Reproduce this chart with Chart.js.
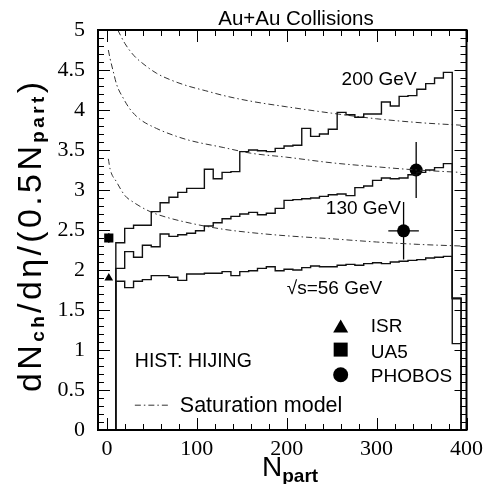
<!DOCTYPE html>
<html>
<head>
<meta charset="utf-8">
<script src="https://cdn.jsdelivr.net/npm/chart.js@4.4.0/dist/chart.umd.min.js"></script>
<style>
  html, body { margin: 0; padding: 0; background: #fff; }
</style>
</head>
<body>
<canvas id="multChart" width="489" height="484"></canvas>
<script>
// HIJING histograms, 40 bins between 0 and 394 participants
const binEdges = [0, 9.85, 19.7, 29.55, 39.4, 49.25, 59.1, 68.95, 78.8, 88.65, 98.5,
  108.35, 118.2, 128.05, 137.9, 147.75, 157.6, 167.45, 177.3, 187.15, 197,
  206.85, 216.7, 226.55, 236.4, 246.25, 256.1, 265.95, 275.8, 285.65, 295.5,
  305.35, 315.2, 325.05, 334.9, 344.75, 354.6, 364.45, 374.3, 384.15, 394];

const hist56 = [0, 1.86, 1.78, 1.86, 1.88, 1.93, 1.93, 1.91, 1.87, 1.95, 1.95,
  1.96, 1.96, 1.98, 1.93, 1.98, 1.99, 2.02, 2.04, 1.99, 2.01,
  2.00, 2.03, 2.05, 2.04, 2.04, 2.06, 2.07, 2.06, 2.08, 2.09,
  2.08, 2.10, 2.11, 2.12, 2.13, 2.15, 2.16, 2.17, 1.64];
const hist130 = [0, 2.02, 2.23, 2.16, 2.31, 2.29, 2.45, 2.42, 2.44, 2.46, 2.49,
  2.55, 2.59, 2.64, 2.67, 2.70, 2.72, 2.69, 2.71, 2.77, 2.87,
  2.88, 2.89, 2.90, 2.92, 2.94, 2.95, 2.93, 3.03, 3.05, 3.12,
  3.15, 3.14, 3.15, 3.19, 3.22, 3.25, 3.28, 3.33, 1.65];
const hist200 = [0, 2.34, 2.52, 2.56, 2.56, 2.73, 2.84, 2.91, 2.97, 3.02, 3.02,
  3.26, 3.14, 3.22, 3.23, 3.48, 3.50, 3.49, 3.48, 3.52, 3.55,
  3.56, 3.77, 3.67, 3.70, 3.76, 3.97, 3.94, 3.91, 3.95, 3.95,
  4.10, 4.05, 4.17, 4.18, 4.26, 4.33, 4.40, 4.47, 1.08];

// saturation model curves
const sat200N = [12, 20, 30, 40, 55, 70, 90, 110, 130, 160, 200, 250, 300, 350, 394];
const sat200V = [5.0, 4.83, 4.68, 4.58, 4.46, 4.38, 4.30, 4.24, 4.18, 4.11, 4.04, 3.96, 3.89, 3.84, 3.81];
const sat130N = [1.5, 3.3, 7, 11, 18, 25, 36, 55, 75, 92, 130, 160, 200, 250, 300, 345, 394];
const sat130V = [4.75, 4.65, 4.48, 4.31, 4.15, 4.02, 3.89, 3.77, 3.68, 3.62, 3.53, 3.46, 3.41, 3.34, 3.29, 3.25, 3.22];
const sat56N = [1.5, 3.5, 10.7, 20, 29, 48, 66, 95, 129, 158, 197, 250, 300, 347, 394];
const sat56V = [3.39, 3.26, 3.10, 2.93, 2.85, 2.73, 2.66, 2.58, 2.51, 2.47, 2.43, 2.39, 2.35, 2.32, 2.30];

// measured points
const isrX = [2], isrY = [1.90];
const ua5X = [2], ua5Y = [2.40], ua5YErr = [0.06];
const phobosX = [330, 344], phobosY = [2.49, 3.25];
const phobosXErr = [17, 0], phobosYErr = [0.36, 0.35];

const xTicks = [0, 100, 200, 300, 400];
const xTickLabels = ['0', '100', '200', '300', '400'];
const yTicks = [0, 0.5, 1, 1.5, 2, 2.5, 3, 3.5, 4, 4.5, 5];
const yTickLabels = ['0', '0.5', '1', '1.5', '2', '2.5', '3', '3.5', '4', '4.5', '5'];

const SANS = '"Liberation Sans", Arial, sans-serif';

function histPoints(vals) {
  return binEdges.map((e, i) => ({ x: e, y: i < vals.length ? vals[i] : 0 }));
}
function curvePoints(xs, ys) {
  return xs.map((x, i) => ({ x: x, y: ys[i] }));
}

const histStyle = {
  showLine: true, stepped: 'before', pointRadius: 0, pointHoverRadius: 0,
  borderColor: '#111', borderWidth: 1.4, fill: false
};
const satStyle = {
  showLine: true, pointRadius: 0, pointHoverRadius: 0, cubicInterpolationMode: 'monotone',
  borderColor: '#333', borderWidth: 1, borderDash: [6, 3, 1.5, 3], fill: false
};

// draws pieces of text with their own font and shift, glyph by glyph, spread to a given length
function richText(ctx, parts, x, y, length) {
  let natural = 0, count = 0;
  parts.forEach(p => { ctx.font = p.font; natural += ctx.measureText(p.t).width; count += p.t.length; });
  const gap = length ? (length - natural) / (count - 1) : 0;
  let cx = x;
  parts.forEach(p => {
    ctx.font = p.font;
    for (const ch of p.t) {
      ctx.fillText(ch, cx, y + (p.dy || 0));
      cx += ctx.measureText(ch).width + gap;
    }
  });
}

const decorations = {
  id: 'decorations',
  beforeDatasetsDraw(chart) {
    const ctx = chart.ctx, xs = chart.scales.x, ys = chart.scales.y;
    ctx.save();
    ctx.strokeStyle = '#000';
    ctx.lineWidth = 1.3;
    ctx.beginPath();
    phobosX.forEach((x, i) => {
      const px = xs.getPixelForValue(x), py = ys.getPixelForValue(phobosY[i]);
      ctx.moveTo(px, ys.getPixelForValue(phobosY[i] - phobosYErr[i]));
      ctx.lineTo(px, ys.getPixelForValue(phobosY[i] + phobosYErr[i]));
      if (phobosXErr[i] > 0) {
        ctx.moveTo(xs.getPixelForValue(x - phobosXErr[i]), py);
        ctx.lineTo(xs.getPixelForValue(x + phobosXErr[i]), py);
      }
    });
    ua5X.forEach((x, i) => {
      const px = xs.getPixelForValue(x);
      ctx.moveTo(px, ys.getPixelForValue(ua5Y[i] - ua5YErr[i]));
      ctx.lineTo(px, ys.getPixelForValue(ua5Y[i] + ua5YErr[i]));
    });
    ctx.stroke();
    ctx.restore();
  },
  afterDatasetsDraw(chart) {
    const ctx = chart.ctx, xs = chart.scales.x, ys = chart.scales.y, a = chart.chartArea;
    const X = v => xs.getPixelForValue(v), Y = v => ys.getPixelForValue(v);
    ctx.save();

    // inward ticks on all four sides
    ctx.strokeStyle = '#000';
    ctx.lineWidth = 1;
    ctx.beginPath();
    for (let v = 0; v <= 400; v += 20) {
      const px = Math.round(X(v)) + 0.5, len = v % 100 === 0 ? 12 : 6;
      ctx.moveTo(px, a.bottom); ctx.lineTo(px, a.bottom - len);
      ctx.moveTo(px, a.top); ctx.lineTo(px, a.top + len);
    }
    for (let i = 0; i <= 50; i++) {
      const py = Math.round(Y(i / 10)) + 0.5, len = i % 5 === 0 ? 12 : 6;
      ctx.moveTo(a.left, py); ctx.lineTo(a.left + len, py);
      ctx.moveTo(a.right, py); ctx.lineTo(a.right - len, py);
    }
    ctx.stroke();
    ctx.lineWidth = 2;
    ctx.strokeRect(a.left, a.top, a.right - a.left, a.bottom - a.top);

    ctx.fillStyle = '#000';
    ctx.textBaseline = 'alphabetic';

    // title
    ctx.font = '20.5px ' + SANS;
    ctx.textAlign = 'center';
    ctx.fillText('Au+Au Collisions', 296, 25);
    ctx.textAlign = 'left';

    // energy labels
    ctx.font = '19px ' + SANS;
    ctx.fillText('200 GeV', X(261), Y(4.31));
    ctx.fillText('130 GeV', X(243.5), Y(2.70));
    ctx.fillText('\u221As=56 GeV', X(200), Y(1.70));
    ctx.font = '19.5px ' + SANS;
    ctx.fillText('HIST: HIJING', X(31), Y(0.79));
    ctx.font = '21.5px ' + SANS;
    ctx.fillText('Saturation model', X(81), Y(0.226));

    // dash-dot legend line
    ctx.lineWidth = 1;
    ctx.strokeStyle = '#333';
    ctx.setLineDash([6, 3, 1.5, 3]);
    ctx.beginPath();
    ctx.moveTo(X(31), Y(0.31)); ctx.lineTo(X(70), Y(0.31));
    ctx.stroke();
    ctx.setLineDash([]);

    // marker legend
    const mx = X(260);
    ctx.fillStyle = '#000';
    let my = Y(1.294);
    ctx.beginPath();
    ctx.moveTo(mx, my - 7); ctx.lineTo(mx + 7.5, my + 6); ctx.lineTo(mx - 7.5, my + 6);
    ctx.closePath(); ctx.fill();
    my = Y(1.005);
    ctx.fillRect(mx - 7, my - 7, 14, 14);
    my = Y(0.69);
    ctx.beginPath(); ctx.arc(mx, my, 7.5, 0, Math.PI * 2); ctx.fill();
    ctx.font = '19px ' + SANS;
    ctx.fillText('ISR', X(293.5), Y(1.22));
    ctx.fillText('UA5', X(293.5), Y(0.905));
    ctx.fillText('PHOBOS', X(293.5), Y(0.60));

    // x axis title
    richText(ctx, [
      { t: 'N', font: '28px ' + SANS },
      { t: 'part', font: 'bold 19px ' + SANS, dy: 6 }
    ], 262, 476);

    // y axis title, rotated
    ctx.translate(41, 392);
    ctx.rotate(-Math.PI / 2);
    richText(ctx, [
      { t: 'dN', font: '34px ' + SANS },
      { t: 'ch', font: 'bold 19px ' + SANS, dy: 3 },
      { t: '/d\u03b7/(0.5N', font: '34px ' + SANS },
      { t: 'part', font: 'bold 19px ' + SANS, dy: 3 },
      { t: ')', font: '34px ' + SANS }
    ], 0, 0, 310);
    ctx.restore();
  }
};

new Chart(document.getElementById('multChart'), {
  type: 'scatter',
  data: {
    datasets: [
      Object.assign({ label: 'HIJING 56 GeV', data: histPoints(hist56) }, histStyle),
      Object.assign({ label: 'HIJING 130 GeV', data: histPoints(hist130) }, histStyle),
      Object.assign({ label: 'HIJING 200 GeV', data: histPoints(hist200) }, histStyle),
      Object.assign({ label: 'Saturation 56', data: curvePoints(sat56N, sat56V) }, satStyle),
      Object.assign({ label: 'Saturation 130', data: curvePoints(sat130N, sat130V) }, satStyle),
      Object.assign({ label: 'Saturation 200', data: curvePoints(sat200N, sat200V) }, satStyle),
      {
        label: 'ISR', data: curvePoints(isrX, isrY),
        pointStyle: 'triangle', pointRadius: 5, backgroundColor: '#000', borderColor: '#000', borderWidth: 0
      },
      {
        label: 'UA5', data: curvePoints(ua5X, ua5Y),
        pointStyle: 'rect', pointRadius: 6.5, backgroundColor: '#000', borderColor: '#000', borderWidth: 0
      },
      {
        label: 'PHOBOS', data: curvePoints(phobosX, phobosY),
        pointStyle: 'circle', pointRadius: 6.5, backgroundColor: '#000', borderColor: '#000', borderWidth: 0
      }
    ]
  },
  options: {
    responsive: false,
    animation: false,
    events: [],
    layout: { padding: { top: 30, right: 21, left: 0, bottom: 0 } },
    plugins: {
      legend: { display: false },
      tooltip: { enabled: false },
      title: { display: false }
    },
    scales: {
      x: {
        type: 'linear', min: -10, max: 400,
        grid: { display: false, drawTicks: false },
        border: { display: false },
        afterBuildTicks: s => { s.ticks = xTicks.map(v => ({ value: v })); },
        afterFit: s => { s.height = 54; },
        ticks: {
          padding: 6, maxRotation: 0, autoSkip: false, color: '#000',
          font: { family: '"Liberation Serif", serif', size: 22 },
          callback: (v, i) => xTickLabels[i]
        }
      },
      y: {
        type: 'linear', min: 0, max: 5,
        grid: { display: false, drawTicks: false },
        border: { display: false },
        afterBuildTicks: s => { s.ticks = yTicks.map(v => ({ value: v })); },
        afterFit: s => { s.width = 98; },
        ticks: {
          padding: 13, autoSkip: false, color: '#000',
          font: { family: '"Liberation Serif", serif', size: 22 },
          callback: (v, i) => yTickLabels[i]
        }
      }
    }
  },
  plugins: [decorations]
});
</script>
</body>
</html>
